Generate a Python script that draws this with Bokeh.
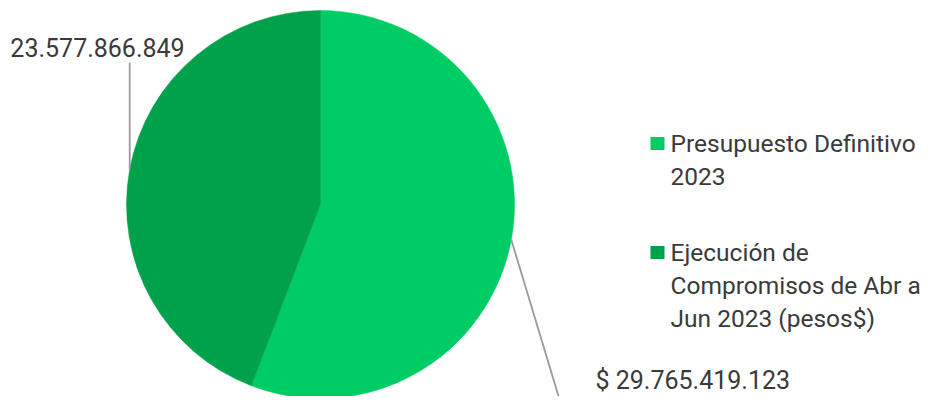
import math
from bokeh.plotting import figure
from bokeh.models import Range1d, ColumnDataSource
from bokeh.core.properties import value
from bokeh.embed import file_html
from bokeh.resources import INLINE

# ---- data ----
categories = ["Presupuesto Definitivo\n2023",
              "Ejecución de\nCompromisos de Abr a\nJun 2023 (pesos$)"]
values = [29765419123, 23577866849]
value_labels = ["$ 29.765.419.123", "23.577.866.849"]
colors = ["#00CC66", "#00A14B"]

W, H = 926, 396
FONT = "Roboto"
TXT = "#3A3A3A"

p = figure(width=W, height=H, output_backend="svg", toolbar_location=None,
           x_range=Range1d(0, W), y_range=Range1d(0, H),
           x_axis_type=None, y_axis_type=None, min_border=0,
           outline_line_color=None)
p.grid.visible = False
p.background_fill_color = "white"
p.border_fill_color = "white"

# pie geometry (pixel-like data space)
cx, cy, r = 320, 192, 194
total = sum(values)
start = math.pi / 2
starts, ends, mids = [], [], []
for v in values:
    ang = 2 * math.pi * v / total
    starts.append(start)
    ends.append(start - ang)
    mids.append(start - ang / 2)
    start -= ang

src = ColumnDataSource(dict(sa=starts, ea=ends, color=colors))
p.wedge(x=cx, y=cy, radius=r, start_angle="sa", end_angle="ea",
        direction="clock", fill_color="color", line_color="color",
        line_width=0.5, source=src)

# leader lines from slice midpoints
lead_col = "#9A9A9A"
m0 = mids[0]
x0, y0 = cx + r * math.cos(m0), cy + r * math.sin(m0)
p.line([x0, x0 + 64], [y0, y0 - 212], line_color=lead_col, line_width=1.8)
m1 = mids[1]
x1, y1 = cx + r * math.cos(m1), cy + r * math.sin(m1)
p.line([x1, x1], [y1, 334], line_color=lead_col, line_width=1.8)

# value labels
p.text(x=[595], y=[16], text=[value_labels[0]], text_font=value(FONT),
       text_font_size="25px", text_color=TXT, text_align="left",
       text_baseline="middle")
p.text(x=[97], y=[349], text=[value_labels[1]], text_font=value(FONT),
       text_font_size="25px", text_color=TXT, text_align="center",
       text_baseline="middle")

# legend (manual)
leg_y = [253, 144]
sq_x = 657
for i, (cat, col) in enumerate(zip(categories, colors)):
    p.rect(x=[sq_x], y=[leg_y[i]], width=14, height=13, fill_color=col,
           line_color=None)
    lines = cat.split("\n")
    ys = [leg_y[i] - 33 * k for k in range(len(lines))]
    p.text(x=[670] * len(lines), y=ys, text=lines, text_font=value(FONT),
           text_font_size="24.5px", text_color=TXT, text_align="left",
           text_baseline="middle")

open("out.html", "w").write(file_html(p, INLINE))
